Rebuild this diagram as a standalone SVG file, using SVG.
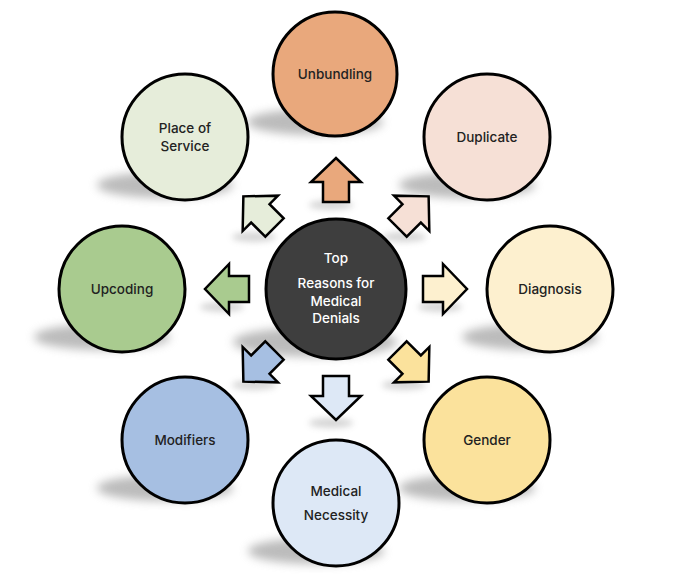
<svg xmlns="http://www.w3.org/2000/svg" width="680" height="582" viewBox="0 0 680 582">
<defs>
<filter id="blur" x="-50%" y="-100%" width="200%" height="300%"><feGaussianBlur stdDeviation="5"/></filter>
<filter id="blur2" x="-50%" y="-100%" width="200%" height="300%"><feGaussianBlur stdDeviation="3"/></filter>
<path id="arr" d="M-22,-13 L-2,-13 L-2,-25 L22,0 L-2,25 L-2,13 L-22,13 Z"/>
</defs>
<style>
.c{stroke:#000;stroke-width:3}
.a{stroke:#000;stroke-width:2.5;stroke-linejoin:miter}
.sh{fill:#8f8f8f;opacity:0.6;filter:url(#blur)}
.ash{fill:#9a9a9a;opacity:0.4;filter:url(#blur2)}
.t{font-family:Inter,"Open Sans","Liberation Sans",sans-serif;font-size:13.5px;font-weight:500;fill:#222;text-anchor:middle}
.w{font-family:Inter,"Open Sans","Liberation Sans",sans-serif;font-size:13.5px;font-weight:500;fill:#fff;text-anchor:middle}
</style>
<rect width="680" height="582" fill="#fff"/>
<g id="shadows">
<ellipse class="sh" cx="315" cy="122" rx="68" ry="13"/>
<ellipse class="sh" cx="165" cy="185" rx="68" ry="13"/>
<ellipse class="sh" cx="467" cy="185" rx="68" ry="13"/>
<ellipse class="sh" cx="530" cy="337" rx="68" ry="13"/>
<ellipse class="sh" cx="102" cy="337" rx="68" ry="13"/>
<ellipse class="sh" cx="165" cy="488" rx="68" ry="13"/>
<ellipse class="sh" cx="467" cy="488" rx="68" ry="13"/>
<ellipse class="sh" cx="316" cy="551" rx="68" ry="13"/>
<ellipse class="sh" cx="315" cy="342" rx="82" ry="15"/>
</g>
<g id="connectors">
<g transform="translate(336,289)">
<ellipse class="ash" cx="-5" cy="-84" rx="22" ry="5"/>
<ellipse class="ash" cx="104" cy="18" rx="22" ry="5"/>
<ellipse class="ash" cx="-114" cy="18" rx="22" ry="5"/>
<ellipse class="ash" cx="-5" cy="134" rx="22" ry="5"/>
<ellipse class="ash" cx="-82" cy="-52" rx="22" ry="5"/>
<ellipse class="ash" cx="68" cy="-52" rx="22" ry="5"/>
<ellipse class="ash" cx="-82" cy="96" rx="22" ry="5"/>
<ellipse class="ash" cx="68" cy="96" rx="22" ry="5"/>
<use href="#arr" class="a" fill="#E9A87C" transform="rotate(-90) translate(109,0)"/>
<use href="#arr" class="a" fill="#F6E0D6" transform="rotate(-45) translate(109,0)"/>
<use href="#arr" class="a" fill="#FDF0CF" transform="rotate(0) translate(109,0)"/>
<use href="#arr" class="a" fill="#FBE29C" transform="rotate(45) translate(109,0)"/>
<use href="#arr" class="a" fill="#DDE8F6" transform="rotate(90) translate(109,0)"/>
<use href="#arr" class="a" fill="#A6BFE2" transform="rotate(135) translate(109,0)"/>
<use href="#arr" class="a" fill="#A9CB8F" transform="rotate(180) translate(109,0)"/>
<use href="#arr" class="a" fill="#E6EDDA" transform="rotate(225) translate(109,0)"/>
</g>
</g>
<g id="center">
<circle class="c" cx="336" cy="289" r="70" fill="#3E3E3E"/>
<text class="w" x="336" y="263">Top</text>
<text class="w" x="336" y="288">Reasons for</text>
<text class="w" x="336" y="306">Medical</text>
<text class="w" x="336" y="323">Denials</text>
</g>
<g id="unbundling">
<circle class="c" cx="335" cy="74" r="62" fill="#E9A87C"/>
<text class="t" x="335" y="79">Unbundling</text>
</g>
<g id="duplicate">
<circle class="c" cx="487" cy="137" r="63" fill="#F6E0D6"/>
<text class="t" x="487" y="142">Duplicate</text>
</g>
<g id="diagnosis">
<circle class="c" cx="550" cy="289" r="63" fill="#FDF0CF"/>
<text class="t" x="550" y="294">Diagnosis</text>
</g>
<g id="gender">
<circle class="c" cx="487" cy="440" r="63" fill="#FBE29C"/>
<text class="t" x="487" y="445">Gender</text>
</g>
<g id="medical-necessity">
<circle class="c" cx="336" cy="503" r="63" fill="#DDE8F6"/>
<text class="t" x="336" y="496">Medical</text>
<text class="t" x="336" y="520">Necessity</text>
</g>
<g id="modifiers">
<circle class="c" cx="185" cy="440" r="63" fill="#A6BFE2"/>
<text class="t" x="185" y="445">Modifiers</text>
</g>
<g id="upcoding">
<circle class="c" cx="122" cy="289" r="63" fill="#A9CB8F"/>
<text class="t" x="122" y="294">Upcoding</text>
</g>
<g id="place-of-service">
<circle class="c" cx="185" cy="137" r="63" fill="#E6EDDA"/>
<text class="t" x="185" y="133">Place of</text>
<text class="t" x="185" y="151">Service</text>
</g>
</svg>
